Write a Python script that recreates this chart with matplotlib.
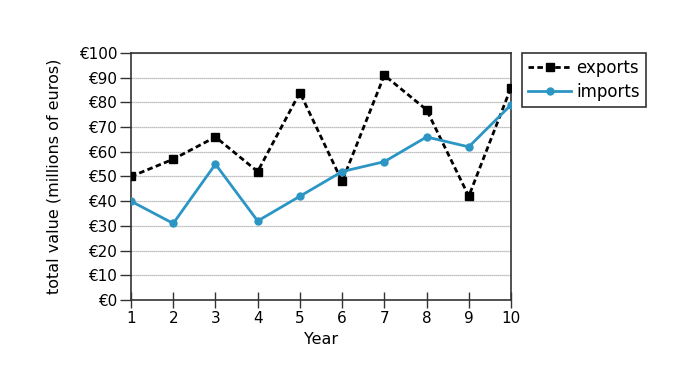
import numpy as np
import matplotlib.pyplot as plt

years = [1, 2, 3, 4, 5, 6, 7, 8, 9, 10]
exports = [50, 57, 66, 52, 84, 48, 91, 77, 42, 86]
imports = [40, 31, 55, 32, 42, 52, 56, 66, 62, 79]
yticks = list(range(0, 101, 10))
ylabels = ["€" + str(v) for v in yticks]

plt.rcParams['font.family'] = ['DejaVu Sans']
plt.rcParams['font.size'] = 11

fig = plt.figure(figsize=(6.84, 3.81), dpi=100)
ax = fig.add_axes([131/684, 81/381, 380/684, 247/381])

ax.plot(years, exports, color='black', ls=(0, (2, 1.2)), lw=2,
        marker='s', ms=5.5, label='exports', zorder=3)
ax.plot(years, imports, color='#2b95c3', lw=2, marker='o', ms=5,
        label='imports', zorder=3)

ax.set_xlim(1, 10)
ax.set_ylim(0, 100)
ax.set_xticks(years)
ax.set_yticks(yticks)
ax.set_yticklabels(ylabels)
ax.yaxis.grid(True, color='#aaaaaa', lw=0.9, ls=(0, (1, 0.6)))
ax.set_axisbelow(True)

for s in ax.spines.values():
    s.set_color('#333333')
    s.set_linewidth(1.2)
ax.tick_params(axis='x', direction='inout', length=12, width=1, color='#333333', pad=2)
ax.tick_params(axis='y', direction='out', length=8, width=1, color='#333333', pad=2)

ax.set_xlabel('Year', labelpad=4, fontsize=11.5)
ax.set_ylabel('total value (millions of euros)', labelpad=12, fontsize=11.5)

leg = ax.legend(loc='upper left', bbox_to_anchor=(522/684, 1 - 53/381),
                bbox_transform=fig.transFigure, fancybox=False, framealpha=1,
                edgecolor='#333333', handlelength=2.6, handletextpad=0.3,
                borderpad=0.35, labelspacing=0.35, borderaxespad=0, fontsize=12)
leg.get_frame().set_linewidth(1.2)

fig.savefig('out.png', dpi=100)
